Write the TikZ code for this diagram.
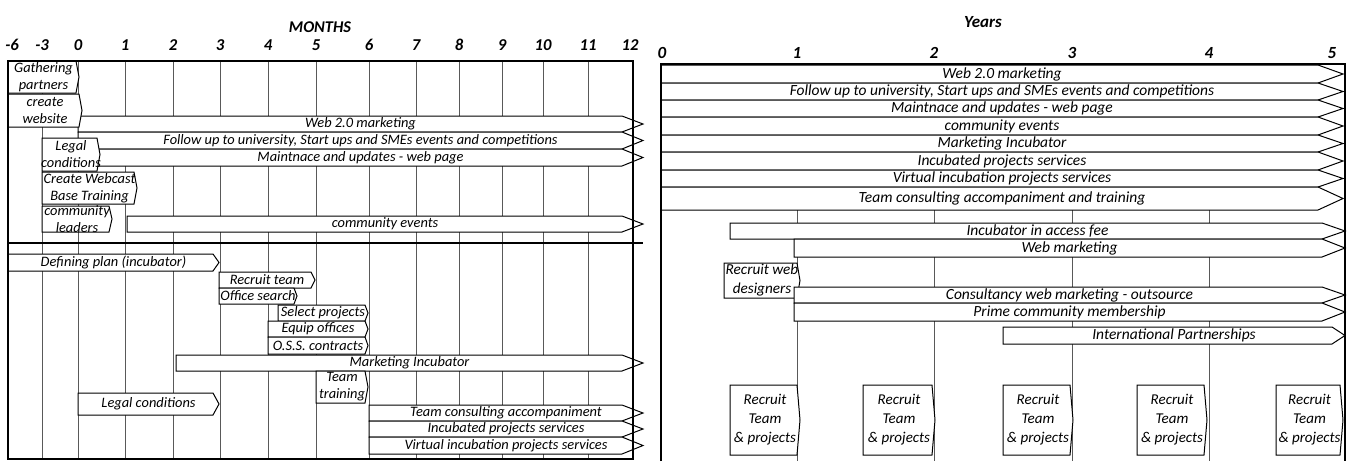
\documentclass[tikz,border=0pt]{standalone}
\usepackage{fontspec}
\setmainfont{Carlito}
\usepackage{tikz}
\usetikzlibrary{calc}
\tikzset{
    % Bars with a pointed right end
    bar line/.style={
        draw=black,
        fill=white,
        line width=0.5pt,
        line join=miter
    },
    bar text/.style={
        font=\fontsize{7.2}{8.5}\selectfont\itshape,
        align=center,
        inner sep=0pt
    },
    bar text big/.style={
        bar text,
        font=\fontsize{7.75}{9.5}\selectfont\itshape
    },
    grid line/.style={
        draw=black!65,
        line width=0.45pt
    },
    frame line/.style={
        draw=black,
        line width=1.1pt
    },
    tick label/.style={
        font=\fontsize{8.3}{9}\selectfont\bfseries\itshape,
        inner sep=0pt
    },
    head label/.style={
        font=\fontsize{8.2}{9}\selectfont\bfseries\itshape,
        inner sep=0pt
    }
}
% bar: [text options]{name}{x1}{x2}{y1}{y2}{tip}{text}
\newcommand{\chevbar}[8][]{%
    \draw[bar line] (#3,#5) -- ({#4-#7},#5) -- (#4,{(#5+#6)/2}) -- ({#4-#7},#6) -- (#3,#6) -- cycle;
    \node[bar text, #1] (#2) at ({(#3+#4)/2},{(#5+#6)/2}) {#8};
}

\begin{document}
\begin{tikzpicture}[x=0.5pt, y=-0.5pt]
    \useasboundingbox (0,0) rectangle (1354,461);

    % Months chart: headings and grid
    \node[head label] (months) at (320,27) {MONTHS};
    \node[tick label] (mA) at (12,45) {-6};
    \foreach \x/\m/\i in {42/-3/B, 78/0/C, 125/1/D, 173/2/E, 220/3/F, 268/4/G,
        316/5/H, 369/6/I, 416/7/J, 459/8/K, 502/9/L, 543/10/M, 588/11/N} {
        \draw[grid line] (\x,61) -- (\x,459);
        \node[tick label] (m\i) at (\x,45) {\m};
    }
    \node[tick label] (mO) at (630,45) {12};

    % Months chart: long bars
    \chevbar{web20}{78}{643}{116}{132}{21}{Web 2.0 marketing}
    \chevbar{follow}{78}{643}{132}{149}{21}{Follow up to university, Start ups and SMEs events and competitions}
    \chevbar{maint}{78}{643}{149}{166}{21}{Maintnace and updates - web page}
    \chevbar{events}{127}{643}{216}{232}{21}{community events}

    % Months chart: start up tasks
    \chevbar{gather}{8}{79}{61}{93}{3}{Gathering\\partners}
    \chevbar{website}{8}{82}{94}{127}{3}{create\\website}
    \chevbar{legalA}{42}{100}{138}{171}{3}{Legal\\conditions}
    \chevbar{webcast}{42}{137}{172}{204}{3}{Create Webcast\\Base Training}
    \chevbar{leaders}{42}{112}{206}{232}{3}{community\\leaders}

    % Months chart: incubator tasks
    \chevbar{plan}{8}{219}{254}{271}{6}{Defining plan (incubator)}
    \chevbar{recruit}{219}{315}{272}{288}{4}{Recruit team}
    \chevbar{office}{219}{297}{288}{304}{3}{Office search}
    \chevbar{select}{278}{368}{305}{321}{3}{Select projects}
    \chevbar{equip}{268}{368}{321}{337}{3}{Equip offices}
    \chevbar{oss}{268}{368}{337}{354}{3}{O.S.S. contracts}
    \chevbar{mktinc}{176}{643}{355}{371}{21}{Marketing Incubator}
    \chevbar{training}{316}{368}{371}{403}{3}{Team\\training}
    \chevbar{legalB}{78}{219}{393}{415}{6}{Legal conditions}
    \chevbar{consult}{369}{643}{405}{421}{21}{Team consulting accompaniment}
    \chevbar{incub}{369}{643}{421}{437}{21}{Incubated projects services}
    \chevbar{virtual}{369}{643}{437}{454}{21}{Virtual incubation projects services}

    % Months chart: frame
    \draw[frame line] (8,61) rectangle (633,459);
    \draw[frame line] (8,243) -- (643,243);

    % Years chart: headings and grid
    \node[head label, font=\fontsize{8.5}{9}\selectfont\bfseries\itshape] (years) at (983,22) {Years};
    \node[tick label, font=\fontsize{8.5}{9}\selectfont\bfseries\itshape] (yA) at (662,53) {0};
    \foreach \x/\y/\i in {797/1/B, 934/2/C, 1072/3/D, 1209/4/E} {
        \draw[grid line] (\x,210) -- (\x,461);
        \node[tick label, font=\fontsize{8.5}{9}\selectfont\bfseries\itshape] (y\i) at (\x,53) {\y};
    }
    \node[tick label, font=\fontsize{8.5}{9}\selectfont\bfseries\itshape] (yF) at (1332,53) {5};

    % Years chart: running services
    \chevbar[bar text big]{yweb20}{661}{1343}{65}{83}{25}{Web 2.0 marketing}
    \chevbar[bar text big]{yfollow}{661}{1343}{83}{100}{25}{Follow up to university, Start ups and SMEs events and competitions}
    \chevbar[bar text big]{ymaint}{661}{1343}{100}{117}{25}{Maintnace and updates - web page}
    \chevbar[bar text big]{yevents}{661}{1343}{117}{135}{25}{community events}
    \chevbar[bar text big]{ymktinc}{661}{1343}{135}{152}{25}{Marketing Incubator}
    \chevbar[bar text big]{yincub}{661}{1343}{152}{170}{25}{Incubated projects services}
    \chevbar[bar text big]{yvirtual}{661}{1343}{170}{187}{25}{Virtual incubation projects services}
    \chevbar[bar text big]{yconsult}{661}{1343}{187}{210}{25}{Team consulting accompaniment and training}

    % Years chart: new services
    \chevbar[bar text big]{fee}{730}{1345}{223}{239}{23}{Incubator in access fee}
    \chevbar[bar text big]{webmkt}{794}{1345}{239}{257}{23}{Web marketing}
    \chevbar[bar text big, font=\fontsize{7.6}{9.5}\selectfont\itshape]{designers}{724}{800}{263}{298}{3}{Recruit web\\designers}
    \chevbar[bar text big]{outsource}{794}{1345}{287}{303}{23}{Consultancy web marketing - outsource}
    \chevbar[bar text big]{prime}{794}{1345}{303}{321}{23}{Prime community membership}
    \chevbar[bar text big]{intl}{1003}{1345}{327}{344}{13}{International Partnerships}

    % Years chart: yearly recruiting
    \foreach \xa/\xb/\i in {730/800/A, 863/935/B, 1003/1073/C, 1137/1207/D, 1276/1343/E} {
        \chevbar[bar text big, font=\fontsize{7.5}{9.5}\selectfont\itshape]{team\i}{\xa}{\xb}{385}{455}{3}{Recruit\\Team\\\& projects}
    }

    % Years chart: frame
    \draw[frame line] (661,461) -- (661,64) -- (1345,64) -- (1345,461);
\end{tikzpicture}
\end{document}
